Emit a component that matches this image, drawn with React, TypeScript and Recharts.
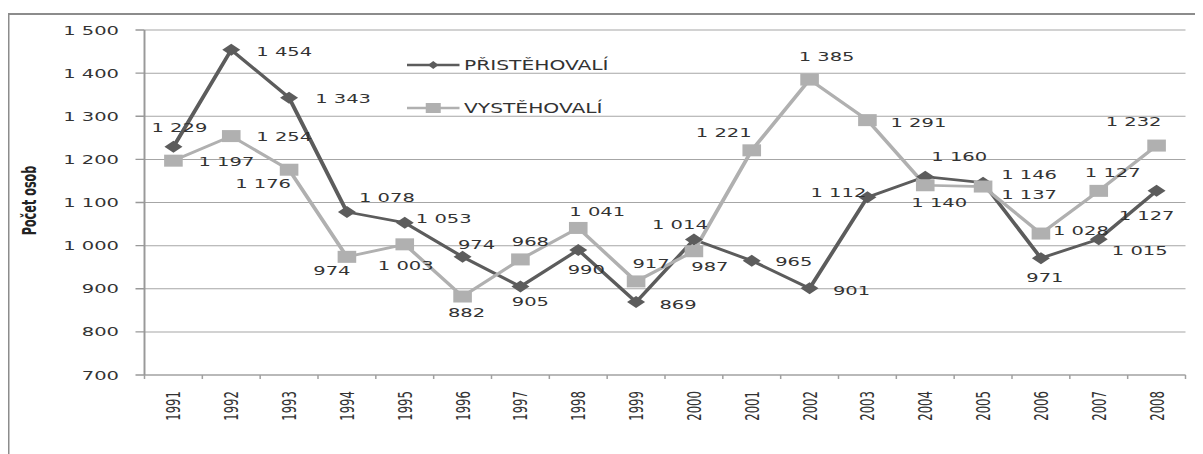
import React from 'react';
import { LineChart, Line, XAxis, YAxis, CartesianGrid, Legend, LabelList, Label } from 'recharts';

const years = ['1991', '1992', '1993', '1994', '1995', '1996', '1997', '1998', '1999', '2000', '2001', '2002', '2003', '2004', '2005', '2006', '2007', '2008'];
const immigrants = [1229, 1454, 1343, 1078, 1053, 974, 905, 990, 869, 1014, 965, 901, 1112, 1160, 1146, 971, 1015, 1127];
const emigrants = [1197, 1254, 1176, 974, 1003, 882, 968, 1041, 917, 987, 1221, 1385, 1291, 1140, 1137, 1028, 1127, 1232];
const yTicks = [700, 800, 900, 1000, 1100, 1200, 1300, 1400, 1500];

// where each data label sits relative to its marker, [dx, dy] in screen px
const immigrantLabelOffsets = [
  [6, -20], [53, 1], [54, 1], [40, -15], [39, -4], [14, -13], [10, 15], [8, 19], [42, 2],
  [-14, -15], [42, 1], [42, 2], [-29, -5], [34, -20], [46, -8], [4, 19], [41, 11], [-10, 24],
];
const emigrantLabelOffsets = [
  [53, 1], [53, 0], [-26, 14], [-15, 13], [1, 21], [4, 16], [10, -18], [19, -17], [15, -18],
  [16, 15], [-28, -18], [17, -23], [51, 2], [14, 17], [46, 8], [40, -3], [14, -19], [-23, -24],
];

const data = years.map((year, i) => ({ year, prist: immigrants[i], vyst: emigrants[i] }));

// the original picture is stretched sideways, so the whole chart is too
const STRETCH = 1.5;
const DARK = '#5c5c5c';
const LIGHT = '#b0b0b0';
const TEXT = '#333';
const FONT = "'DejaVu Sans', Verdana, sans-serif";
const NARROW = "'DejaVu Sans Condensed', 'DejaVu Sans', sans-serif";

const CHART_W = 800;
const CHART_H = 440;
const MARGIN = { top: 15, right: 16, bottom: 0, left: 10 };
const Y_AXIS_W = 80;
const PLOT_BOTTOM = 360;
const BAND = (CHART_W - MARGIN.left - MARGIN.right - Y_AXIS_W) / years.length;

const fmt = (v: number) =>
  v >= 1000 ? `${Math.floor(v / 1000)}\u00A0${String(v % 1000).padStart(3, '0')}` : String(v);

const Diamond = (props: any) => {
  const { cx, cy } = props;
  if (cx == null || cy == null) return null;
  return <polygon points={`${cx},${cy - 6} ${cx + 6},${cy} ${cx},${cy + 6} ${cx - 6},${cy}`} fill={DARK} />;
};

const Square = (props: any) => {
  const { cx, cy } = props;
  if (cx == null || cy == null) return null;
  return <rect x={cx - 6.2} y={cy - 6} width={12.4} height={12} fill={LIGHT} />;
};

const makeLabel = (offsets: number[][]) => (props: any) => {
  const x = props.x ?? props.viewBox?.x;
  const y = props.y ?? props.viewBox?.y;
  const { index, value } = props;
  if (x == null || y == null || index == null) return null;
  const [dx, dy] = offsets[index];
  return (
    <text x={x + dx / STRETCH} y={y + dy + 4.7} textAnchor="middle" fontSize={13} fontFamily={FONT} fill={TEXT}>
      {fmt(Number(value))}
    </text>
  );
};

const YearTick = (props: any) => {
  const { x, payload, index } = props;
  const left = x - BAND / 2;
  return (
    <g>
      <line x1={left} x2={left} y1={PLOT_BOTTOM} y2={PLOT_BOTTOM + 4} stroke="#a0a0a0" />
      {index === years.length - 1 && (
        <line x1={x + BAND / 2} x2={x + BAND / 2} y1={PLOT_BOTTOM} y2={PLOT_BOTTOM + 4} stroke="#a0a0a0" />
      )}
      <text
        transform={`translate(${x}, ${PLOT_BOTTOM + 16}) rotate(-90)`}
        textAnchor="end"
        dy="0.36em"
        fontSize={13}
        fontFamily={NARROW}
        style={{ fontStretch: 'condensed' }}
        fill={TEXT}
      >
        {payload.value}
      </text>
    </g>
  );
};

const LegendBox = () => (
  <svg width={170} height={70}>
    <line x1={2} x2={37} y1={15} y2={15} stroke={DARK} strokeWidth={2.5} />
    <polygon points="19.5,11 23,15 19.5,19 16,15" fill={DARK} />
    <text x={40} y={15} dy="0.36em" fontSize={13.5} fontFamily={FONT} fill={TEXT}>PŘISTĚHOVALÍ</text>
    <line x1={2} x2={37} y1={58} y2={58} stroke={LIGHT} strokeWidth={2.5} />
    <rect x={14.5} y={53} width={10} height={10} fill={LIGHT} />
    <text x={40} y={58} dy="0.36em" fontSize={13.5} fontFamily={FONT} fill={TEXT}>VYSTĚHOVALÍ</text>
  </svg>
);

export default function App() {
  return (
    <div style={{ width: 1195, height: 446, overflow: 'hidden' }}>
      <div
        style={{
          marginTop: 5,
          width: CHART_W,
          height: 460,
          borderTop: '2px solid #8c8c8c',
          borderLeft: '1.5px solid #8c8c8c',
          transform: `scaleX(${STRETCH})`,
          transformOrigin: 'left top',
          background: '#fff',
        }}
      >
        <LineChart width={CHART_W} height={CHART_H} data={data} margin={MARGIN}>
          <CartesianGrid vertical={false} stroke="#a6a6a6" />
          <XAxis
            dataKey="year"
            stroke="#a0a0a0"
            tickLine={false}
            tickSize={0}
            tickMargin={0}
            padding={{ left: BAND / 2, right: BAND / 2 }}
            height={CHART_H - PLOT_BOTTOM - MARGIN.bottom}
            interval={0}
            tick={<YearTick />}
          />
          <YAxis
            width={Y_AXIS_W}
            domain={[700, 1500]}
            ticks={yTicks}
            interval={0}
            stroke="#999"
            strokeWidth={1.3}
            tickSize={6}
            tickMargin={11}
            tickFormatter={fmt}
            tick={{ fontSize: 13, fill: TEXT, fontFamily: FONT }}
          >
            <Label
              content={(p: any) => {
                const vb = p.viewBox || { x: 0, y: 0, height: 0 };
                return (
                  <text
                    transform={`translate(${vb.x + 3}, ${vb.y + vb.height / 2 - 2}) rotate(-90)`}
                    textAnchor="middle"
                    dy="0.36em"
                    fontSize={12.5}
                    fontWeight="bold"
                    fontFamily={NARROW}
                    style={{ fontStretch: 'condensed' }}
                    fill="#222"
                  >
                    Počet osob
                  </text>
                );
              }}
            />
          </YAxis>
          <Legend
            layout="horizontal"
            align="center"
            verticalAlign="middle"
            content={<LegendBox />}
            wrapperStyle={{ left: 263, top: 35, width: 170, height: 70 }}
          />
          <Line
            dataKey="prist"
            name="PŘISTĚHOVALÍ"
            stroke={DARK}
            strokeWidth={2.75}
            dot={<Diamond />}
            activeDot={false}
            isAnimationActive={false}
          >
            <LabelList dataKey="prist" content={makeLabel(immigrantLabelOffsets)} />
          </Line>
          <Line
            dataKey="vyst"
            name="VYSTĚHOVALÍ"
            stroke={LIGHT}
            strokeWidth={2.75}
            dot={<Square />}
            activeDot={false}
            isAnimationActive={false}
          >
            <LabelList dataKey="vyst" content={makeLabel(emigrantLabelOffsets)} />
          </Line>
        </LineChart>
      </div>
    </div>
  );
}
